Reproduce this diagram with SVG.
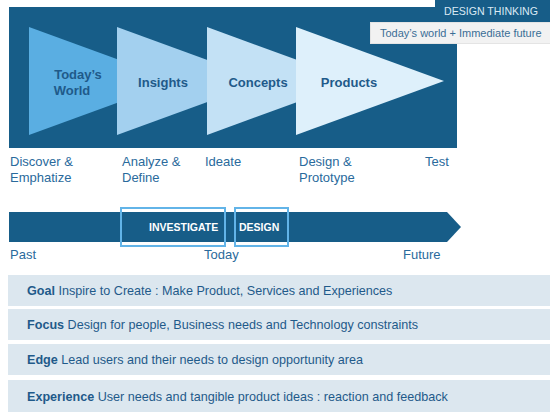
<svg xmlns="http://www.w3.org/2000/svg" width="550" height="412" viewBox="0 0 550 412">
<style>
text{font-family:"Liberation Sans",Arial,sans-serif}
.tri{stroke:none}
.tl{font-size:13px;font-weight:bold;fill:#1f5a8a;text-anchor:middle}
.st{font-size:13px;fill:#2a6a9c}
.tb{font-size:10.5px;font-weight:bold;fill:#ffffff}
.box{fill:none;stroke:#62b4e8;stroke-width:2}
.bar{fill:#dce7ef}
.bt{font-size:12.6px;fill:#1f5a8a}
.bt tspan.b{font-weight:bold}
</style>
<rect x="0" y="0" width="550" height="412" fill="#ffffff"/>
<g id="panel">
<rect x="9" y="7" width="448" height="141" fill="#175d88"/>
</g>
<g id="header">
<rect x="435" y="0" width="115" height="22" fill="#175d88"/>
<text x="491" y="15" font-size="10.6" fill="#dbe9f4" text-anchor="middle">DESIGN THINKING</text>
<rect x="370.5" y="22.5" width="180" height="21" fill="#f2f2f2" stroke="#e4e4e4"/>
<text x="380" y="37" font-size="11" fill="#3a6e96">Today’s world + Immediate future</text>
</g>
<g id="stage-todays-world">
<polygon class="tri" points="29,27 177,81 29,135" fill="#5aaee2"/>
<text class="tl" x="78" y="79">Today’s</text>
<text class="tl" x="72" y="95">World</text>
</g>
<g id="stage-insights">
<polygon class="tri" points="117,27 265,81 117,135" fill="#a3d0ef"/>
<text class="tl" x="163" y="87">Insights</text>
</g>
<g id="stage-concepts">
<polygon class="tri" points="207,27 355,81 207,135" fill="#c3e1f5"/>
<text class="tl" x="258" y="87">Concepts</text>
</g>
<g id="stage-products">
<polygon class="tri" points="296,27 444,81 296,135" fill="#def0fb"/>
<text class="tl" x="349" y="87">Products</text>
</g>
<g id="steps">
<text class="st" x="10" y="166">Discover &amp;</text>
<text class="st" x="10" y="182">Emphatize</text>
<text class="st" x="122" y="166">Analyze &amp;</text>
<text class="st" x="122" y="182">Define</text>
<text class="st" x="205" y="166">Ideate</text>
<text class="st" x="299" y="166">Design &amp;</text>
<text class="st" x="299" y="182">Prototype</text>
<text class="st" x="425" y="166">Test</text>
</g>
<g id="timeline">
<polygon points="9,212 447,212 461,227 447,242 9,242" fill="#175d88"/>
</g>
<g id="investigate">
<rect class="box" x="121" y="208" width="104" height="38"/>
<text class="tb" x="149" y="231">INVESTIGATE</text>
</g>
<g id="design">
<rect class="box" x="235" y="208" width="53" height="38"/>
<text class="tb" x="239" y="231">DESIGN</text>
</g>
<g id="time-labels">
<text class="st" x="10" y="259">Past</text>
<text class="st" x="204" y="259">Today</text>
<text class="st" x="403" y="259">Future</text>
</g>
<g id="goal">
<rect class="bar" x="8" y="275" width="542" height="31"/>
<text class="bt" x="27" y="295"><tspan class="b">Goal</tspan> Inspire to Create : Make Product, Services and Experiences</text>
</g>
<g id="focus">
<rect class="bar" x="8" y="309" width="542" height="31"/>
<text class="bt" x="27" y="329"><tspan class="b">Focus</tspan> Design for people, Business needs and Technology constraints</text>
</g>
<g id="edge">
<rect class="bar" x="8" y="344" width="542" height="31"/>
<text class="bt" x="27" y="364"><tspan class="b">Edge</tspan> Lead users and their needs to design opportunity area</text>
</g>
<g id="experience">
<rect class="bar" x="8" y="380" width="542" height="32"/>
<text class="bt" x="27" y="401"><tspan class="b">Experience</tspan>  User needs and tangible product ideas : reaction and feedback</text>
</g>
</svg>
